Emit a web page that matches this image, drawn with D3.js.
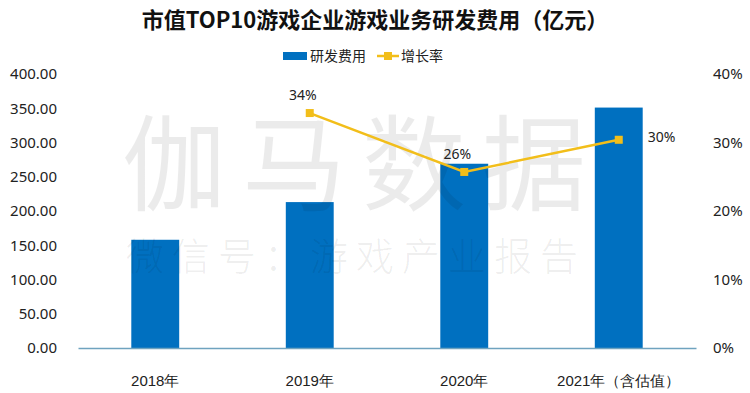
<!DOCTYPE html>
<html lang="zh">
<head>
    <meta charset="UTF-8">
    <title>市值TOP10游戏企业游戏业务研发费用</title>
    <script src="https://d3js.org/d3.v7.min.js"></script>
    <style>
        html, body { margin: 0; padding: 0; background: #fff; }
        svg { display: block; font-family: "Noto Sans CJK SC", "Noto Sans", sans-serif; }
    </style>
</head>
<body>
    <div id="chart"></div>
    <script>
        // data
        const years = ['2018年', '2019年', '2020年', '2021年（含估值）'];
        const spend = [158, 213, 269, 351];          // 研发费用 (亿元)
        const growthYears = ['2019年', '2020年', '2021年（含估值）'];
        const growth = [0.343, 0.257, 0.304];        // 增长率
        const growthLabels = ['34%', '26%', '30%'];
        const leftTicks = [0, 50, 100, 150, 200, 250, 300, 350, 400];
        const rightTicks = [0, 0.1, 0.2, 0.3, 0.4];

        const width = 750, height = 393;
        const svg = d3.select('#chart')
            .append('svg')
            .attr('width', width)
            .attr('height', height);

        const x = d3.scaleBand()
            .domain(years)
            .range([78, 696])
            .paddingInner(0.69)
            .paddingOuter(0.345);

        const y = d3.scaleLinear().domain([0, 400]).range([348, 74]);
        const y2 = d3.scaleLinear().domain([0, 0.4]).range([348, 74]);

        // title
        svg.append('text')
            .attr('x', 375)
            .attr('y', 28)
            .attr('text-anchor', 'middle')
            .attr('font-size', '22px')
            .attr('font-weight', 'bold')
            .attr('fill', '#111')
            .text('市值TOP10游戏企业游戏业务研发费用（亿元）');

        // legend
        const legend = svg.append('g').attr('transform', 'translate(283,56)');
        legend.append('rect')
            .attr('x', 0).attr('y', -4)
            .attr('width', 24).attr('height', 8)
            .attr('fill', '#0070C0');
        legend.append('text')
            .attr('x', 27).attr('y', 5)
            .attr('font-size', '14px').attr('fill', '#222')
            .text('研发费用');
        legend.append('line')
            .attr('x1', 94).attr('x2', 116)
            .attr('y1', 0).attr('y2', 0)
            .attr('stroke', '#F2BE1A').attr('stroke-width', 2.5);
        legend.append('rect')
            .attr('x', 101).attr('y', -4)
            .attr('width', 8).attr('height', 8)
            .attr('fill', '#F2BE1A');
        legend.append('text')
            .attr('x', 118).attr('y', 5)
            .attr('font-size', '14px').attr('fill', '#222')
            .text('增长率');

        // left axis
        const leftAxis = svg.append('g')
            .attr('transform', 'translate(57,0)')
            .call(d3.axisLeft(y).tickValues(leftTicks).tickFormat(d3.format('.2f')).tickSize(0).tickPadding(0));
        leftAxis.select('.domain').remove();
        leftAxis.selectAll('text')
            .attr('font-size', '15px')
            .attr('fill', '#222')
            .attr('font-family', '"Noto Sans", sans-serif');

        // right axis
        const rightAxis = svg.append('g')
            .attr('transform', 'translate(713,0)')
            .call(d3.axisRight(y2).tickValues(rightTicks).tickFormat(d3.format('.0%')).tickSize(0).tickPadding(0));
        rightAxis.select('.domain').remove();
        rightAxis.selectAll('text')
            .attr('font-size', '15px')
            .attr('fill', '#222')
            .attr('font-family', '"Noto Sans", sans-serif');

        // bars
        svg.selectAll('.bar')
            .data(spend)
            .enter()
            .append('rect')
            .attr('class', 'bar')
            .attr('x', (d, i) => x(years[i]))
            .attr('y', d => y(d))
            .attr('width', x.bandwidth())
            .attr('height', d => y(0) - y(d))
            .attr('fill', '#0070C0');

        // x axis
        const bottomAxis = svg.append('g')
            .attr('transform', 'translate(0,' + y(0) + ')')
            .call(d3.axisBottom(x).tickSize(0).tickPadding(27));
        bottomAxis.select('.domain')
            .attr('stroke', '#6FA3BF')
            .attr('stroke-width', 1.5);
        bottomAxis.selectAll('text')
            .attr('font-size', '15px')
            .attr('fill', '#222');

        // watermark over the bars, faint
        const mark = svg.append('g').attr('fill', '#000').attr('fill-opacity', 0.08);
        mark.append('text')
            .attr('x', 362).attr('y', 203)
            .attr('text-anchor', 'middle')
            .attr('font-size', '104px')
            .attr('letter-spacing', '16px')
            .text('伽马数据');
        mark.append('text')
            .attr('x', 356).attr('y', 270)
            .attr('text-anchor', 'middle')
            .attr('font-size', '38px')
            .attr('font-weight', '300')
            .attr('letter-spacing', '8px')
            .text('微信号：游戏产业报告');

        // growth line
        const cx = d => x(d) + x.bandwidth() / 2;
        const line = d3.line()
            .x((d, i) => cx(growthYears[i]))
            .y(d => y2(d));
        svg.append('path')
            .datum(growth)
            .attr('d', line)
            .attr('fill', 'none')
            .attr('stroke', '#F2BE1A')
            .attr('stroke-width', 2.5);
        svg.selectAll('.pt')
            .data(growth)
            .enter()
            .append('rect')
            .attr('class', 'pt')
            .attr('x', (d, i) => cx(growthYears[i]) - 4)
            .attr('y', d => y2(d) - 4)
            .attr('width', 8)
            .attr('height', 8)
            .attr('fill', '#F2BE1A');

        // growth labels: above for first two, right for last
        svg.selectAll('.glabel')
            .data(growth)
            .enter()
            .append('text')
            .attr('class', 'glabel')
            .attr('x', (d, i) => i === 2 ? cx(growthYears[i]) + 29 : cx(growthYears[i]) - 7)
            .attr('y', (d, i) => i === 2 ? y2(d) + 2 : y2(d) - 13)
            .attr('text-anchor', (d, i) => i === 2 ? 'start' : 'middle')
            .attr('font-size', '14px')
            .attr('fill', '#222')
            .attr('font-family', '"Noto Sans", sans-serif')
            .text((d, i) => growthLabels[i]);
    </script>
</body>
</html>
